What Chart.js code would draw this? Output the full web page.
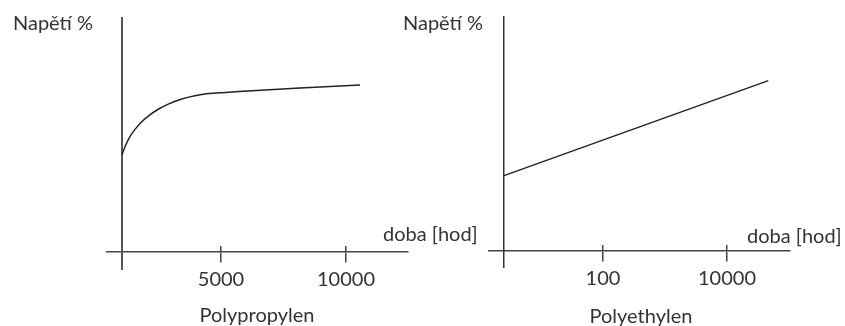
<!DOCTYPE html>
<html>
<head>
<meta charset="utf-8">
<script src="https://cdn.jsdelivr.net/npm/chart.js@4.4.1/dist/chart.umd.min.js"></script>
<style>
  body { margin: 0; background: #fff; }
  #wrap { position: relative; width: 845px; height: 326px; overflow: hidden; font-family: Lato, sans-serif; color: #333; }
  canvas { position: absolute; top: 0; }
  .lbl { position: absolute; font-size: 20px; line-height: 1; white-space: nowrap; transform: translateY(-50%); }
  .ctr { transform: translate(-50%, -50%); }
</style>
</head>
<body>
<div id="wrap">
  <canvas id="pp" width="420" height="326" style="left:0"></canvas>
  <canvas id="pe" width="425" height="326" style="left:420px"></canvas>
  <div class="lbl" style="left:13px; top:22px">Napětí %</div>
  <div class="lbl" style="left:403px; top:22px">Napětí %</div>
  <div class="lbl" style="left:383px; top:233px">doba [hod]</div>
  <div class="lbl" style="left:747px; top:235px">doba [hod]</div>
  <div class="lbl ctr" style="left:257px; top:314px">Polypropylen</div>
  <div class="lbl ctr" style="left:641px; top:315px">Polyethylen</div>
</div>
<script>
// Polypropylen: napětí vs. doba (lineární osa)
const ppTime = [1040, 1160, 1360, 1560, 1830, 2090, 2490, 2890, 3430, 3960, 4490, 5160, 5880, 8160, 10560];
const ppStrain = [41.5, 45.0, 49.3, 52.4, 55.7, 58.1, 61.0, 63.2, 65.4, 66.8, 67.7, 68.2, 68.7, 70.1, 71.4];
const ppTicks = [5000, 10000];

// Polyethylen: napětí vs. doba (logaritmická osa)
const peTime = [2.53, 46400];
const peStrain = [32.2, 72.8];
const peTicks = [100, 10000];

Chart.defaults.font.family = 'Lato, sans-serif';
Chart.defaults.font.size = 20;
Chart.defaults.color = '#333';

const axisColor = '#444';

function makeChart(id, times, strains, cfg) {
  const ctx = document.getElementById(id).getContext('2d');
  const tickValues = cfg.ticks;
  const setTicks = (axis) => { axis.ticks = tickValues.map(v => ({ value: v })); };

  return new Chart(ctx, {
    type: 'line',
    data: {
      datasets: [{
        data: times.map((t, i) => ({ x: t, y: strains[i] })),
        borderColor: '#222',
        borderWidth: 1.5,
        pointRadius: 0,
        cubicInterpolationMode: 'monotone',
        fill: false
      }]
    },
    options: {
      responsive: false,
      animation: false,
      layout: { padding: cfg.padding },
      plugins: { legend: { display: false }, tooltip: { enabled: false } },
      scales: {
        x: {
          type: cfg.xType,
          min: cfg.xMin,
          max: cfg.xMax,
          position: { y: 0 },
          afterBuildTicks: setTicks,
          grid: { display: true, drawOnChartArea: false, drawTicks: true, tickLength: 10, color: axisColor, lineWidth: 1.5 },
          border: { display: true, color: axisColor, width: 1.5 },
          ticks: { padding: 6, maxRotation: 0, callback: (v) => String(v) }
        },
        // upper half of the tick marks
        xt: {
          type: cfg.xType,
          axis: 'x',
          min: cfg.xMin,
          max: cfg.xMax,
          position: { y: 0 },
          afterBuildTicks: setTicks,
          grid: { display: true, drawOnChartArea: false, drawTicks: true, tickLength: -6, color: axisColor, lineWidth: 1.5 },
          border: { display: false },
          ticks: { display: false }
        },
        y: {
          type: 'linear',
          min: cfg.yMin,
          max: 100,
          position: { x: cfg.yAt },
          grid: { display: false },
          border: { display: true, color: cfg.yColor, width: cfg.yWidth },
          ticks: { display: false }
        }
      }
    }
  });
}

makeChart('pp', ppTime, ppStrain, {
  xType: 'linear', xMin: 440, xMax: 12480, yAt: 1040, yMin: -7.26,
  ticks: ppTicks, yColor: '#555', yWidth: 2,
  padding: { left: 107, right: 12, top: 18, bottom: 57 }
});

makeChart('pe', peTime, peStrain, {
  xType: 'logarithmic', xMin: 1.45, xMax: 103800, yAt: 2.53, yMin: -6.84,
  ticks: peTicks, yColor: '#333', yWidth: 1.5,
  padding: { left: 69, right: 55, top: 17, bottom: 59 }
});
</script>
</body>
</html>
